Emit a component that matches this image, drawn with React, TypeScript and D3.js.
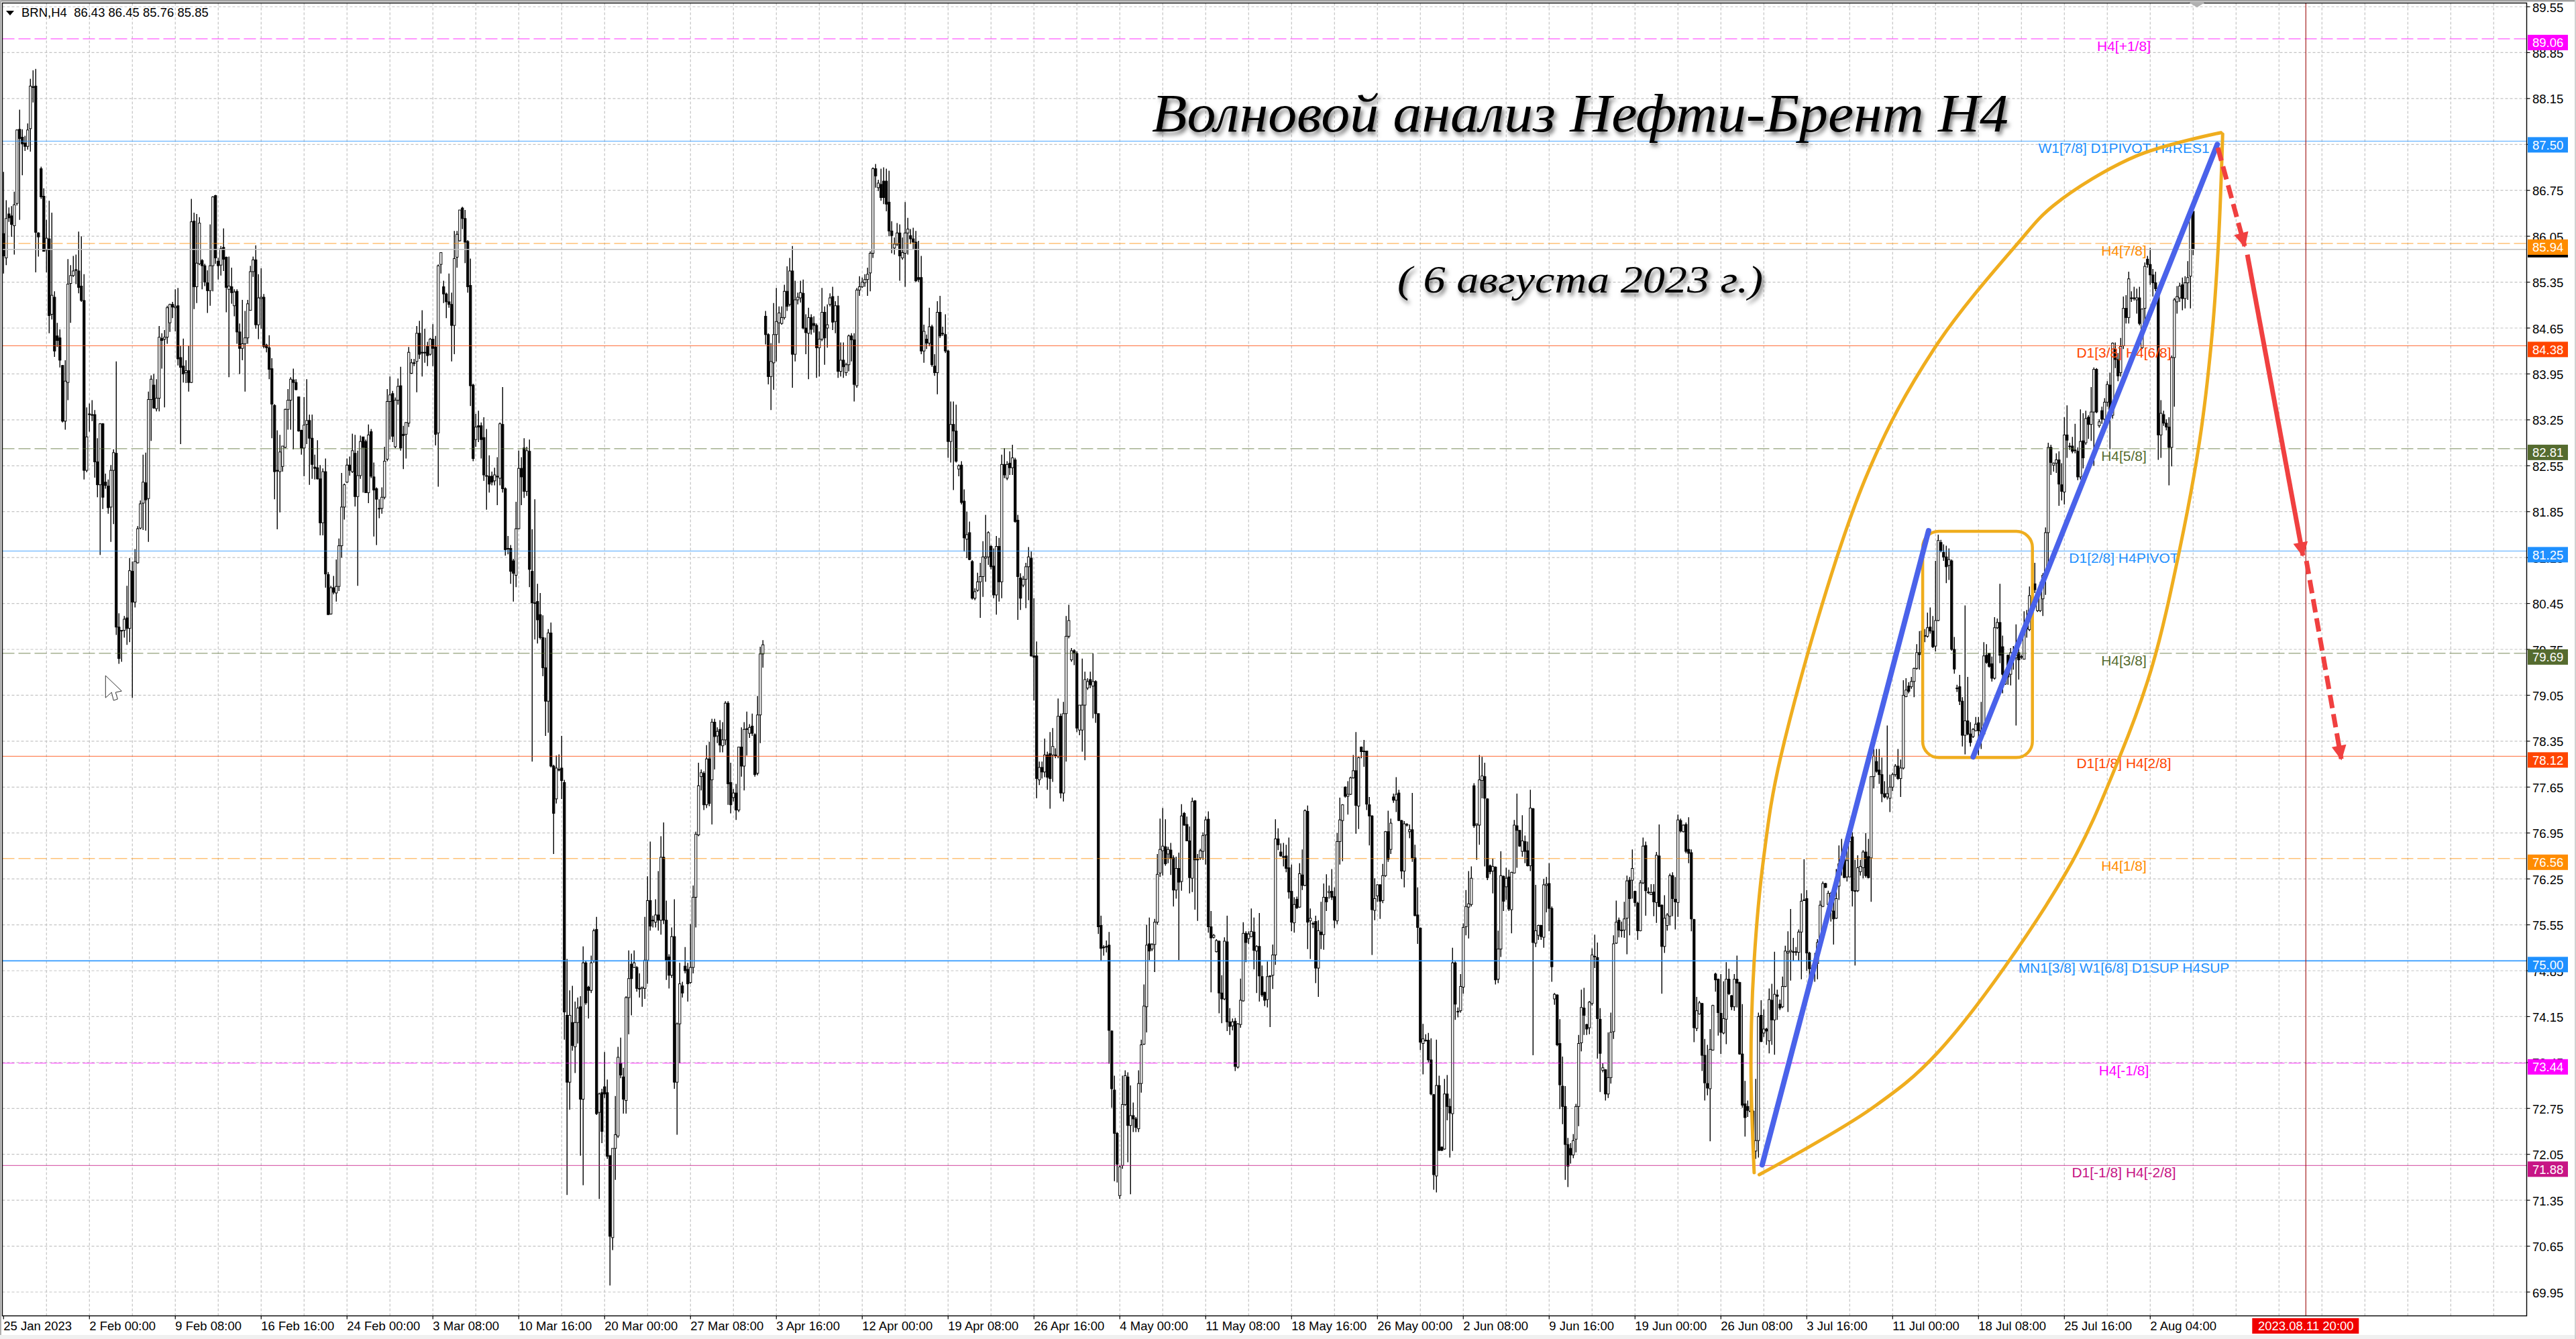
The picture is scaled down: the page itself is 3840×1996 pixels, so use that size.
import React, { useEffect, useRef } from 'react';
import * as d3 from 'd3';

// H4 bars, ten per line
const opens = [
86.09,85.72,86.39,86.36,86.21,86.55,87.68,87.56,87.47,87.42,
87.69,88.33,88.34,86.10,87.08,86.66,85.84,86.01,84.86,85.12,
84.53,84.50,84.08,83.23,83.82,85.33,85.45,85.54,85.52,85.29,
85.07,82.48,83.34,83.33,83.33,82.61,82.26,83.19,82.30,82.24,
81.92,82.48,82.74,80.09,80.04,80.04,80.23,80.07,80.94,80.47,
81.07,81.60,81.98,82.29,82.05,83.56,83.78,83.42,83.58,84.49,
84.48,84.51,84.73,85.01,84.96,84.99,84.20,84.07,83.97,84.00,
83.82,86.28,85.28,85.63,85.68,85.60,85.34,85.22,85.60,86.67,
85.67,85.61,85.88,85.73,85.24,85.28,84.99,85.21,84.59,84.34,
84.41,84.50,84.92,85.51,85.69,84.70,85.10,85.12,84.39,84.35,
84.03,83.47,82.48,82.46,82.54,82.83,83.41,83.55,83.86,83.82,
83.60,83.09,82.82,83.18,83.24,82.97,82.53,82.52,82.35,81.68,
82.46,80.89,80.29,80.69,80.61,80.71,81.33,81.92,82.30,82.56,
82.46,82.74,82.08,82.40,82.99,82.92,82.14,83.07,82.38,82.20,
81.90,81.90,82.07,82.65,83.53,83.65,82.84,83.55,83.77,83.03,
83.03,83.20,83.96,84.12,84.14,84.57,84.28,84.28,84.37,84.25,
84.48,84.36,83.05,85.62,85.28,85.17,85.05,85.01,84.69,85.73,
85.98,86.48,86.32,85.97,85.30,83.78,82.95,83.16,83.16,82.98,
82.40,82.39,82.39,82.32,82.39,82.36,83.18,82.20,81.29,81.29,
81.10,80.88,81.59,82.51,82.82,82.16,82.77,80.94,80.46,80.48,
80.28,79.93,79.47,78.96,80.00,77.97,77.47,77.92,77.94,77.72,
74.17,73.15,74.06,73.69,74.06,74.30,72.89,74.97,74.60,74.55,
75.00,75.48,72.69,72.99,73.08,72.99,72.03,70.78,72.14,72.33,
73.44,73.23,72.87,74.44,74.95,74.90,74.90,74.58,74.58,74.58,
75.01,75.92,75.62,75.59,75.70,75.62,76.58,75.62,75.06,74.78,
75.37,73.15,74.04,74.62,74.92,74.87,74.67,74.90,75.97,76.92,
77.81,77.86,77.38,78.08,77.76,78.64,78.43,78.53,78.28,78.37,
78.93,77.72,77.49,77.56,77.30,78.26,77.97,78.54,78.47,78.58,
78.45,77.86,78.75,79.68,84.83,84.55,83.91,84.12,84.55,84.73,
84.72,84.81,85.21,85.01,85.52,84.25,85.08,85.11,85.18,84.65,
84.57,84.81,84.72,84.69,84.35,84.48,84.89,84.65,85.01,85.13,
84.75,84.99,83.99,84.16,83.97,84.09,84.53,84.47,83.77,85.23,
85.28,85.34,85.39,85.49,85.79,87.08,86.79,86.84,86.89,86.89,
86.57,86.13,85.87,85.93,86.10,85.72,85.79,86.10,86.06,86.01,
85.96,85.42,85.42,84.30,84.48,84.42,84.67,84.07,83.97,84.89,
84.57,84.55,84.30,82.92,83.18,83.08,82.50,82.56,82.01,81.43,
81.53,81.09,80.53,80.65,80.78,80.86,81.14,81.16,81.32,81.02,
80.58,81.32,80.78,82.57,82.36,82.59,82.52,82.64,81.72,80.84,
80.73,80.82,81.01,81.14,79.65,79.65,77.76,77.95,77.88,78.14,
78.16,78.14,78.14,78.12,78.73,77.56,78.77,79.95,79.59,79.73,
79.69,78.52,78.52,78.90,79.16,79.29,79.19,79.26,78.77,75.54,
75.21,75.22,75.24,73.93,73.03,72.37,71.42,71.88,72.81,73.23,
72.49,72.64,72.59,72.44,73.13,73.73,74.30,75.26,75.18,75.25,
75.59,76.34,76.68,76.74,76.63,76.69,76.57,76.08,76.41,76.21,
77.25,77.08,76.83,76.26,77.44,76.55,76.57,76.67,76.92,77.16,
75.52,75.36,75.14,75.30,74.51,74.42,75.29,74.07,74.01,74.08,
73.38,74.03,74.39,75.42,75.34,75.37,75.44,75.15,75.22,74.76,
74.52,74.41,74.77,74.78,75.09,76.86,76.66,76.59,76.60,76.42,
76.06,75.58,75.94,75.82,76.31,76.15,77.28,75.61,75.57,75.60,
74.89,75.44,75.40,75.97,76.04,76.06,75.98,75.61,76.82,77.14,
77.65,77.51,77.54,77.79,77.90,77.36,78.26,78.20,78.20,77.38,
77.21,75.77,75.99,76.16,75.92,76.30,76.97,76.70,77.50,77.45,
77.56,77.14,76.37,77.08,76.97,77.00,76.57,75.70,75.50,73.74,
73.79,73.79,73.49,72.96,71.72,73.10,72.16,72.13,72.97,72.78,
72.67,74.97,74.23,74.24,74.60,75.52,75.82,75.86,77.67,77.07,
77.07,77.75,77.81,77.47,76.45,76.37,76.43,74.72,75.18,76.29,
76.13,76.28,75.78,76.34,77.06,76.99,76.67,76.82,76.68,76.45,
77.32,75.27,75.39,75.54,75.36,76.15,76.18,75.80,74.42,74.48,
73.74,73.09,72.78,72.20,72.14,72.04,72.28,72.78,73.75,74.28,
74.03,73.98,74.35,75.07,75.05,74.11,73.33,73.34,72.97,73.22,
73.92,75.27,75.62,75.47,75.47,75.65,76.23,76.23,76.06,75.88,
75.46,76.19,76.76,76.05,76.01,76.05,75.89,76.60,75.85,75.22,
75.54,75.68,76.30,75.94,75.89,77.14,76.97,77.08,76.70,76.65,
75.63,73.97,74.19,74.35,73.56,73.13,73.05,73.64,74.80,74.72,
74.20,73.90,74.11,74.72,74.47,74.30,74.72,74.67,73.58,72.82,
72.78,72.71,72.71,72.10,72.26,74.17,73.90,73.96,73.78,74.40,
74.10,74.48,74.34,74.30,74.61,75.12,75.14,75.14,75.14,75.13,
75.44,75.93,75.95,75.12,74.89,74.89,74.96,75.28,75.83,76.18,
75.86,75.76,75.76,75.65,76.14,76.48,76.55,76.28,76.28,76.89,
76.07,76.07,76.36,76.42,76.66,76.59,76.57,77.81,78.04,77.91,
77.84,77.55,77.50,77.48,77.65,77.84,77.97,77.78,77.94,79.03,
79.19,79.18,79.26,79.46,79.70,79.70,79.96,79.95,80.09,80.03,
79.80,80.19,81.38,81.23,81.16,81.03,81.10,79.75,79.16,79.18,
78.96,78.44,78.66,78.46,78.42,78.51,78.63,78.51,78.46,79.66,
79.69,79.53,79.31,80.08,80.16,79.79,79.22,79.66,79.37,79.70,
79.62,79.70,79.64,79.60,80.16,80.05,80.55,80.75,80.34,80.34,
80.52,80.84,81.53,82.83,82.56,82.59,82.64,82.26,82.15,83.02,
82.85,82.85,82.79,82.77,82.38,82.93,82.90,83.29,83.18,83.37,
84.02,83.16,83.39,83.26,83.52,83.78,83.32,84.33,84.17,83.97,
84.38,84.95,84.81,85.11,85.11,85.08,85.11,84.35,84.95,85.70,
85.62,85.46,85.34,85.25,83.02,83.33,83.20,83.14,82.83,84.20,
85.05,85.11,85.31,85.10,85.34,85.44,86.43,
];

const closes = [
85.75,86.32,86.33,86.23,86.53,87.67,87.54,87.46,87.42,87.67,
88.34,88.33,86.11,86.04,86.65,85.82,86.02,84.84,85.15,84.30,
84.46,84.16,83.23,83.84,85.32,85.45,85.52,85.54,85.27,85.07,
82.48,82.99,83.34,83.33,82.61,82.26,83.19,82.07,82.25,81.91,
82.48,82.75,80.09,79.61,80.04,80.21,80.07,80.95,80.47,81.09,
81.59,81.97,82.30,82.03,83.56,83.87,83.43,83.58,84.51,84.46,
84.51,84.96,85.01,84.97,84.98,84.18,84.05,83.95,84.00,83.82,
86.27,85.28,85.64,86.25,85.60,85.35,85.22,85.60,86.65,85.72,
85.60,85.86,85.70,85.27,85.29,85.19,85.20,84.59,84.34,84.41,
84.50,85.02,85.51,85.69,84.70,85.11,85.12,84.37,84.35,84.02,
83.49,82.46,82.48,82.76,82.85,83.41,83.55,83.87,83.82,83.71,
83.08,82.82,83.17,83.24,82.97,82.57,82.51,82.35,81.68,82.46,
80.90,80.28,80.69,80.62,80.71,81.33,81.92,82.26,82.56,82.48,
82.78,82.08,82.40,82.92,82.83,82.14,83.02,82.39,82.18,82.04,
81.90,82.07,82.62,83.53,83.63,83.00,83.55,83.76,82.82,83.01,
83.21,84.28,84.12,84.12,84.57,84.25,84.28,84.28,84.23,84.48,
84.34,83.03,85.60,85.80,85.17,85.05,85.01,84.69,85.71,86.08,
86.45,86.32,85.96,85.28,83.77,82.66,83.14,83.14,82.95,82.41,
82.40,82.27,82.30,82.41,82.39,83.19,82.20,81.27,81.29,80.94,
80.91,81.59,82.51,82.38,82.16,82.78,80.97,80.46,80.46,80.20,
79.93,79.47,78.96,80.00,77.97,77.25,77.94,77.92,77.75,74.22,
73.15,74.17,73.71,74.06,74.28,72.89,74.97,74.36,74.55,74.97,
75.46,72.67,72.97,72.40,72.97,72.02,70.80,72.14,72.35,73.53,
73.26,72.89,74.44,74.73,74.73,74.97,74.58,74.58,74.60,75.01,
75.92,75.53,75.62,75.70,75.62,76.58,75.62,75.01,74.78,75.37,
73.15,74.04,74.65,74.51,74.85,74.65,74.90,75.97,76.93,77.67,
77.87,77.38,78.08,77.40,78.64,78.42,78.50,78.29,78.37,78.93,
77.70,77.38,77.56,77.30,78.26,77.97,78.53,78.54,78.56,78.47,
77.84,78.75,79.68,79.82,84.55,83.91,84.14,84.55,84.75,84.88,
84.81,85.21,84.98,85.52,84.25,85.08,85.12,85.19,84.65,84.58,
84.81,84.63,84.69,84.35,84.48,84.89,84.50,84.70,85.11,84.74,
84.99,83.99,84.16,84.06,84.09,84.53,84.47,83.79,85.23,85.28,
85.35,85.39,85.47,85.79,87.08,86.97,86.86,86.64,86.64,86.54,
86.13,86.06,85.93,86.10,85.75,85.80,86.10,86.16,86.01,85.96,
85.37,85.39,84.30,84.60,84.42,84.67,84.09,83.97,84.89,84.53,
84.57,84.30,82.92,83.18,83.08,82.62,82.55,81.99,81.45,81.50,
81.12,80.53,80.63,80.78,80.86,81.16,81.16,81.53,81.01,80.58,
81.32,80.78,82.57,82.41,82.57,82.52,82.67,81.70,80.86,80.53,
80.82,81.01,81.16,79.65,79.63,77.78,77.95,77.88,78.14,77.80,
77.78,78.27,78.14,78.73,77.56,78.77,79.95,80.19,79.73,79.69,
78.55,78.90,78.90,79.29,79.26,79.21,79.26,78.77,75.52,75.19,
75.21,75.22,73.94,73.05,72.37,71.90,71.86,72.81,73.25,72.49,
72.64,72.59,72.46,73.13,73.72,74.31,75.24,75.15,75.25,75.59,
76.32,76.70,76.75,76.48,76.70,76.56,76.08,76.41,76.20,77.21,
77.07,76.83,76.27,77.43,76.54,76.55,76.68,76.91,77.15,75.52,
75.35,75.39,75.31,74.51,74.42,75.30,74.07,74.00,74.07,73.39,
74.04,74.40,75.42,75.28,75.41,75.45,75.16,75.22,74.77,74.48,
74.40,74.76,74.77,75.09,76.86,76.77,76.60,76.59,76.41,76.05,
75.59,75.86,75.81,76.33,76.15,77.29,75.59,75.65,75.57,74.89,
75.46,75.40,75.97,75.90,76.06,75.97,75.62,76.82,77.15,77.38,
77.51,77.54,77.79,77.90,77.37,78.10,78.19,78.20,77.39,77.21,
75.78,75.95,76.16,75.91,76.30,76.97,76.55,77.10,77.45,77.54,
77.14,76.37,77.09,77.08,77.00,76.57,75.69,75.51,73.76,73.81,
73.79,73.49,72.97,71.74,73.10,72.11,72.11,72.97,72.78,72.68,
74.97,74.34,74.23,74.61,75.51,75.83,75.87,76.26,77.06,77.09,
77.76,77.82,77.48,76.27,76.36,76.44,74.71,75.18,76.30,75.91,
76.26,75.79,76.35,77.07,76.99,76.75,76.83,76.67,76.45,77.33,
75.28,75.46,75.54,75.37,76.16,76.17,75.80,74.91,74.49,73.72,
73.11,72.78,72.20,71.87,72.04,72.26,72.78,73.74,74.29,74.17,
73.96,74.37,75.09,75.07,74.12,73.59,73.37,72.97,73.22,73.91,
75.26,75.59,75.47,75.47,75.64,76.22,75.95,76.41,75.89,75.46,
76.19,76.75,76.07,76.05,76.04,75.90,76.61,75.83,75.22,75.65,
75.70,76.30,75.95,75.90,77.15,76.98,77.07,76.67,76.64,75.64,
73.98,74.24,74.36,73.56,73.14,73.06,73.65,74.32,74.71,74.21,
73.91,74.12,74.72,74.50,74.30,74.72,74.66,73.58,72.80,72.61,
72.72,72.71,72.26,72.26,74.15,73.77,73.96,73.93,74.41,74.10,
74.49,74.46,74.28,74.61,75.15,75.14,75.16,75.14,75.14,75.44,
75.91,75.93,75.12,74.88,74.89,74.96,75.28,75.85,76.18,76.12,
76.03,76.03,75.64,75.95,76.48,76.59,76.27,76.53,76.82,76.07,
76.07,76.42,76.44,76.66,76.30,76.27,77.81,78.12,77.89,77.84,
77.55,77.50,77.55,77.65,77.84,77.97,77.78,77.94,79.05,79.13,
79.11,79.26,79.46,79.70,79.67,80.03,79.96,80.08,80.03,79.79,
80.19,81.41,81.25,81.16,81.01,81.12,79.75,79.45,79.16,78.96,
78.44,78.66,78.46,78.33,78.53,78.61,78.51,78.46,79.65,79.55,
79.49,79.31,80.08,80.16,79.66,79.37,79.41,79.33,79.70,79.60,
79.66,79.59,79.64,80.06,80.06,80.57,80.42,80.66,80.52,80.71,
80.88,81.53,82.83,82.60,82.59,82.64,82.27,82.16,83.02,82.94,
82.85,82.77,82.79,82.38,82.92,82.67,83.27,83.18,83.37,84.02,
83.37,83.22,83.26,83.52,83.79,83.32,84.42,84.17,83.92,84.37,
84.95,84.81,85.40,85.11,85.11,85.11,84.72,84.94,85.59,85.62,
85.46,85.34,85.25,83.02,83.35,83.20,83.14,82.83,84.20,85.08,
85.13,85.29,85.10,85.34,85.42,86.44,85.85,
];

const highs = [
87.03,86.60,86.49,86.51,86.73,87.68,87.98,87.68,87.58,87.77,
88.45,88.58,88.60,86.11,87.11,86.78,86.30,86.59,86.41,85.21,
84.73,84.63,84.08,84.16,85.70,85.61,85.75,85.77,86.12,86.05,
85.47,83.44,83.50,83.55,83.40,82.97,83.20,83.20,82.43,82.34,
82.56,82.80,84.14,80.30,80.04,80.26,80.72,81.14,81.09,81.28,
81.63,82.02,82.72,82.75,83.68,83.93,83.95,83.87,84.68,84.57,
84.62,84.99,85.02,85.05,85.24,85.26,84.38,84.49,84.16,84.38,
86.62,86.41,86.39,86.34,85.70,85.63,85.53,86.23,86.66,86.68,
85.72,85.90,86.17,85.74,85.74,85.57,85.24,85.24,84.72,85.08,
84.91,85.08,85.60,85.74,85.91,85.47,85.56,85.17,84.41,84.54,
84.19,83.49,83.09,83.02,82.85,83.42,83.72,83.90,84.03,83.87,
83.60,83.10,83.60,83.87,83.33,83.33,82.72,82.94,82.56,82.51,
82.66,80.93,80.72,80.87,81.12,81.44,82.44,82.28,82.66,82.69,
83.04,83.02,82.78,83.01,82.99,82.95,83.18,83.11,82.60,82.22,
82.04,82.22,82.84,83.72,83.91,83.69,83.59,83.88,84.06,83.16,
83.21,84.36,84.18,84.18,84.68,84.76,84.92,84.64,84.44,84.50,
84.71,84.53,85.62,85.80,85.37,85.19,85.48,85.19,86.13,86.13,
86.45,86.50,86.45,85.99,85.71,83.80,83.34,83.39,83.21,83.29,
83.11,82.71,82.46,82.52,82.68,83.21,83.75,82.22,81.48,81.34,
81.13,82.00,82.78,82.68,82.97,82.84,82.95,81.58,82.04,80.75,
80.61,80.27,79.93,80.06,80.16,77.99,78.13,78.15,78.43,77.76,
75.03,74.55,74.62,74.38,74.44,74.46,75.22,75.00,74.62,75.08,
75.49,75.67,72.99,73.05,73.61,73.19,72.03,72.14,72.94,73.69,
73.83,73.37,74.46,75.16,75.11,75.16,74.92,74.81,74.60,75.67,
76.29,76.82,75.69,75.94,76.37,76.90,77.11,75.92,75.10,75.51,
75.94,74.06,74.97,74.68,75.21,74.97,75.56,76.15,76.97,78.02,
77.92,77.89,78.29,78.34,78.69,78.69,78.56,78.67,78.64,78.96,
78.96,78.02,77.62,77.70,78.26,78.56,78.64,78.80,78.61,78.77,
78.47,79.04,79.79,79.89,84.91,84.57,84.42,85.03,85.26,84.98,
84.98,85.31,85.59,85.72,85.90,85.37,85.19,85.37,85.39,84.86,
84.96,84.86,84.83,84.72,84.60,85.26,84.98,85.01,85.18,85.28,
85.06,85.14,84.43,84.43,84.12,84.55,84.57,84.57,85.26,85.44,
85.42,85.47,85.57,85.82,87.10,87.15,86.91,87.08,87.10,87.08,
87.05,86.28,86.03,86.25,86.23,86.03,86.57,86.33,86.16,86.18,
86.13,85.98,85.75,84.70,84.55,84.96,84.70,84.25,85.06,85.14,
84.67,84.86,84.32,83.53,83.53,83.48,82.57,82.62,82.19,81.85,
81.70,81.11,80.68,80.92,81.07,81.40,81.80,81.55,81.34,81.29,
81.48,81.45,82.72,82.82,82.62,82.77,82.87,82.67,81.80,80.91,
80.87,81.07,81.31,81.24,80.53,79.87,78.04,78.04,78.39,78.19,
78.49,78.55,78.24,79.00,78.77,78.95,80.26,80.43,79.77,79.75,
79.72,78.90,79.61,79.41,79.31,79.41,79.69,79.28,78.77,75.69,
75.24,75.31,75.44,73.94,73.25,72.39,71.88,73.25,73.33,73.30,
73.10,72.84,72.62,73.33,73.80,74.64,75.55,75.66,75.27,75.64,
76.63,77.17,77.33,77.16,76.74,76.80,76.61,76.59,76.65,77.39,
77.27,77.20,77.05,77.49,77.45,76.63,76.71,76.96,77.20,77.28,
75.76,75.41,75.33,75.31,74.78,75.36,75.69,74.28,74.12,74.13,
74.05,74.73,75.59,75.45,75.45,75.80,75.66,75.24,75.73,74.93,
74.53,74.99,74.78,75.25,77.16,77.02,76.79,76.80,76.77,76.88,
76.47,75.97,75.98,76.49,76.70,77.31,77.37,75.80,75.60,75.69,
75.62,75.90,76.18,76.32,76.15,76.40,76.12,76.95,77.49,77.39,
77.66,77.74,77.81,78.14,78.49,78.11,78.27,78.37,78.20,77.50,
77.22,76.26,76.17,76.17,76.48,76.98,77.29,77.17,77.55,77.80,
77.61,77.15,77.13,77.10,77.08,77.56,76.77,76.12,75.51,74.04,
73.88,73.90,73.82,72.97,73.80,73.25,72.17,73.20,73.26,72.90,
75.20,74.99,74.29,74.80,75.57,76.08,76.37,76.44,77.71,77.09,
78.14,78.11,78.02,77.48,76.47,76.56,76.44,75.46,76.67,76.30,
76.42,76.39,76.36,77.15,77.55,76.99,77.22,76.91,76.82,77.61,
77.33,76.16,75.55,75.55,76.25,76.28,76.49,75.83,74.51,74.49,
74.11,73.54,73.09,72.30,72.22,72.36,72.82,73.87,74.56,74.59,
74.04,74.39,75.19,75.40,75.28,74.28,73.44,73.35,73.91,74.21,
75.39,75.92,75.66,75.60,75.90,76.30,76.28,76.70,76.07,75.90,
76.23,76.88,76.82,76.12,76.17,76.17,76.66,77.08,75.86,76.00,
75.73,76.33,76.35,76.28,77.23,77.17,77.08,77.11,77.19,76.70,
75.64,74.45,74.39,74.36,73.81,73.72,73.96,74.33,74.82,74.73,
74.80,74.69,74.98,74.88,74.48,74.80,75.08,74.68,74.34,73.17,
72.87,73.04,72.73,73.20,74.21,74.40,74.26,73.98,74.58,74.65,
75.14,74.56,74.41,74.76,75.23,75.45,75.79,75.35,75.21,75.48,
76.03,76.55,76.08,75.14,74.94,75.12,75.33,75.92,76.21,76.19,
76.07,76.05,75.90,76.40,76.76,76.86,76.59,76.94,76.82,76.96,
76.54,76.61,76.54,76.69,76.95,76.86,77.81,78.23,78.23,78.23,
78.10,77.74,78.59,77.84,77.87,78.00,78.23,78.07,79.28,79.31,
79.25,79.33,79.47,79.83,80.03,80.06,80.06,80.31,80.39,80.26,
81.10,81.50,81.42,81.35,81.33,81.29,81.12,79.94,79.21,79.36,
79.02,80.42,79.33,78.64,78.55,78.72,78.72,78.95,79.86,79.83,
79.70,79.64,80.24,80.22,80.75,79.96,79.44,79.67,79.77,79.80,
80.13,79.93,79.67,80.33,80.35,80.71,81.04,81.07,80.55,80.78,
80.91,81.61,82.90,82.87,82.60,82.74,82.77,82.59,83.29,83.47,
82.90,82.99,83.19,82.83,83.41,83.35,83.39,83.32,83.75,84.05,
84.04,83.26,83.45,83.58,83.84,83.97,84.43,84.43,84.27,84.50,
85.13,85.15,85.51,85.21,85.28,85.25,85.28,84.95,85.65,85.75,
85.87,85.55,85.51,85.26,83.55,83.39,83.26,83.29,84.23,85.11,
85.29,85.34,85.42,85.44,85.67,86.49,86.45,
];

const lows = [
85.48,85.61,86.27,86.04,85.77,86.52,86.30,86.98,87.35,87.37,
87.34,88.09,85.50,85.74,86.62,85.82,85.50,84.57,84.78,84.21,
84.36,84.05,83.21,83.10,83.55,84.73,85.43,85.32,85.18,85.05,
82.34,82.45,83.07,83.23,82.37,82.07,81.19,81.89,82.20,81.82,
81.39,81.66,79.97,79.53,79.56,79.93,79.82,79.86,79.01,80.39,
81.06,81.58,81.57,81.56,81.39,82.93,83.42,83.38,83.38,84.03,
83.44,84.41,84.59,84.80,84.60,84.08,82.88,83.82,83.81,83.68,
83.81,84.94,85.03,85.61,85.24,85.29,84.88,84.99,85.21,85.63,
85.39,85.45,85.52,84.89,83.90,85.02,84.83,84.41,83.95,84.16,
83.68,84.41,84.92,85.43,84.64,84.48,84.64,84.34,84.28,83.87,
82.97,82.04,81.58,81.84,82.46,82.82,83.10,83.10,82.80,83.70,
83.07,82.72,82.39,82.88,82.26,82.35,82.34,82.34,81.49,81.49,
80.69,80.28,80.28,80.59,80.48,80.64,81.15,81.73,82.29,82.40,
82.44,81.93,80.72,82.35,82.14,82.14,81.98,82.36,81.47,81.34,
81.75,81.82,82.04,82.62,82.95,82.91,82.82,83.48,82.78,82.50,
82.66,83.14,83.95,84.07,83.67,84.18,83.91,84.12,84.07,84.23,
84.07,82.86,82.23,85.48,85.03,84.80,84.96,84.14,84.25,85.57,
85.97,86.16,85.64,85.19,83.46,82.62,82.84,82.91,82.66,82.32,
81.88,82.14,82.25,82.25,81.95,82.25,82.14,81.18,81.20,80.75,
80.48,80.70,81.58,81.95,82.06,82.09,80.70,78.04,79.90,79.84,
79.90,79.34,78.43,78.48,77.95,76.63,77.40,77.89,77.47,73.80,
71.43,72.73,73.63,73.29,73.74,72.03,71.58,74.33,74.12,74.51,
74.97,72.65,71.37,72.22,72.91,71.98,70.05,70.59,71.66,72.30,
73.21,72.67,72.67,73.88,74.17,74.89,74.53,74.44,74.30,74.42,
74.65,75.46,75.51,75.51,75.46,75.40,75.56,74.71,74.58,74.74,
73.05,72.35,73.44,74.44,74.81,74.38,74.65,74.81,75.51,76.90,
77.60,77.30,77.33,77.36,77.08,77.92,78.32,78.18,78.18,78.29,
77.38,77.25,77.43,77.15,77.27,77.81,77.60,78.13,78.40,78.43,
77.81,77.83,78.32,79.47,84.40,83.79,83.40,83.71,84.14,84.42,
84.70,84.78,84.91,84.98,83.74,84.14,85.01,85.04,84.63,84.25,
83.87,84.55,84.58,83.89,83.91,84.45,84.09,84.35,84.98,84.62,
84.57,83.89,83.91,83.89,83.92,83.99,84.14,83.53,83.74,85.14,
85.26,85.28,85.14,85.21,85.72,86.79,86.74,86.59,86.54,86.43,
86.05,85.79,85.77,85.90,85.37,85.69,85.28,85.77,85.93,85.85,
85.35,85.35,84.25,84.12,84.33,84.37,84.06,83.92,83.64,84.50,
84.53,84.27,82.67,82.60,82.18,82.60,82.39,81.96,81.24,81.14,
81.11,80.51,80.50,80.63,80.23,80.55,80.78,81.04,80.97,80.53,
80.28,80.48,80.53,82.36,82.33,82.41,82.41,81.68,80.20,80.35,
80.70,80.38,80.50,79.64,78.97,77.48,77.68,77.78,77.80,77.61,
77.32,77.73,78.09,78.09,77.48,77.43,78.04,79.92,79.56,79.51,
78.49,78.44,78.19,78.06,79.13,79.16,78.70,78.63,75.41,75.00,
75.08,75.13,73.43,72.76,71.64,71.62,71.37,71.83,72.79,71.93,
71.44,72.39,72.39,72.39,72.99,73.72,73.91,75.01,75.15,74.83,
75.55,76.28,76.30,76.45,76.49,76.31,75.83,75.95,75.01,76.07,
77.06,76.83,76.03,76.05,75.78,75.61,76.54,76.54,76.47,75.43,
74.52,75.34,75.13,74.20,74.05,74.40,73.93,73.87,73.94,73.32,
73.36,73.98,74.38,74.98,75.26,75.36,74.87,74.51,74.38,74.45,
74.31,74.29,73.99,74.57,74.94,76.69,76.59,76.44,76.35,75.95,
75.45,75.43,75.79,75.81,76.08,76.14,75.18,75.03,75.50,74.66,
74.45,75.18,75.17,75.76,75.95,75.93,75.50,75.56,76.47,76.52,
77.49,77.23,77.53,77.78,76.94,77.01,78.09,77.96,77.30,76.76,
75.09,75.62,75.90,75.64,75.88,76.28,76.51,76.63,77.41,77.27,
77.13,76.25,76.12,77.05,76.87,76.51,75.68,75.26,73.64,73.27,
73.77,73.45,72.95,71.51,71.47,72.10,72.10,72.12,72.57,72.00,
72.10,74.10,74.14,74.21,74.50,75.39,75.34,75.83,77.03,76.54,
76.77,77.48,76.44,76.23,76.32,76.03,74.64,74.66,75.06,75.76,
75.93,75.76,75.42,76.33,76.42,76.74,76.59,76.49,76.44,76.37,
73.56,75.21,75.32,75.32,75.20,75.74,75.45,74.68,74.33,73.70,
72.74,72.51,71.66,71.55,71.91,71.99,72.08,72.48,73.62,73.87,
73.87,73.88,74.32,74.89,73.51,73.00,73.30,72.87,72.91,73.13,
73.81,75.26,75.36,75.36,75.35,75.10,75.39,75.95,75.83,75.32,
75.45,76.17,75.69,76.02,76.01,75.68,75.58,75.82,74.50,75.12,
75.46,75.54,75.68,75.48,75.67,76.96,76.96,76.64,76.49,75.45,
73.76,73.93,74.18,73.32,72.87,72.95,72.25,73.63,74.53,73.86,
73.58,73.88,73.73,74.48,74.25,74.24,74.29,73.57,72.76,72.32,
72.62,72.70,71.84,71.98,72.00,73.76,73.84,73.72,73.59,73.72,
73.57,74.10,74.25,74.28,74.60,74.22,74.70,75.00,75.08,75.00,
74.72,75.92,74.85,74.73,74.68,74.68,74.72,75.26,75.82,76.11,
75.81,75.60,75.25,75.64,75.93,76.30,76.27,76.21,76.28,75.83,
74.93,76.05,76.30,76.26,76.27,76.26,75.90,77.63,77.87,77.70,
77.42,77.48,77.46,77.27,77.59,77.81,77.76,77.50,77.92,79.02,
79.08,79.15,79.02,79.44,79.44,79.70,79.86,79.93,79.99,79.77,
79.72,80.18,81.23,81.10,80.76,80.81,79.73,79.38,79.10,78.90,
78.27,78.15,78.44,78.27,78.40,78.50,78.14,78.23,78.43,79.53,
79.47,79.26,79.29,80.06,79.54,79.08,79.21,79.21,79.20,79.44,
78.59,79.29,79.60,79.60,79.93,80.03,80.42,80.61,80.32,80.32,
80.26,80.58,80.97,82.41,82.46,82.44,81.94,82.02,81.96,82.67,
82.79,82.74,82.74,82.33,82.34,82.51,82.87,82.96,82.93,82.55,
83.35,83.13,83.19,83.19,83.45,82.80,83.27,84.04,83.84,83.91,
84.33,84.72,84.72,85.05,85.07,84.87,84.69,84.33,84.74,85.57,
85.31,85.13,85.21,82.64,82.67,83.16,83.09,82.25,82.54,83.45,
84.87,85.05,84.92,84.95,85.08,84.95,85.76,
];

const priceTicks = ['69.95','70.65','71.35','72.05','72.75','73.45','74.15','74.85','75.55','76.25','76.95','77.65','78.35','79.05','79.75','80.45','81.15','81.85','82.55','83.25','83.95','84.65','85.35','86.05','86.75','87.45','88.15','88.85','89.55'];
const timeLabels = ['25 Jan 2023','2 Feb 00:00','9 Feb 08:00','16 Feb 16:00','24 Feb 00:00','3 Mar 08:00','10 Mar 16:00','20 Mar 00:00','27 Mar 08:00','3 Apr 16:00','12 Apr 00:00','19 Apr 08:00','26 Apr 16:00','4 May 00:00','11 May 08:00','18 May 16:00','26 May 00:00','2 Jun 08:00','9 Jun 16:00','19 Jun 00:00','26 Jun 08:00','3 Jul 16:00','11 Jul 00:00','18 Jul 08:00','25 Jul 16:00','2 Aug 04:00'];

const levelPrices = [89.06, 87.5, 85.94, 84.38, 82.81, 81.25, 79.69, 78.12, 76.56, 75.0, 73.44, 71.88];
const levelNames = ['H4[+1/8]', 'W1[7/8] D1PIVOT H4RES1', 'H4[7/8]', 'D1[3/8] H4[6/8]', 'H4[5/8]', 'D1[2/8] H4PIVOT', 'H4[3/8]', 'D1[1/8] H4[2/8]', 'H4[1/8]', 'MN1[3/8] W1[6/8] D1SUP H4SUP', 'H4[-1/8]', 'D1[-1/8] H4[-2/8]'];
const levelColors = ['#ff00ff', '#1e90ff', '#ff8c00', '#ff4500', '#556b2f', '#1e90ff', '#556b2f', '#ff4500', '#ff8c00', '#1e90ff', '#ff00ff', '#c71585'];

// hand drawn marks, as [bar number, price]
const blueWaveA = [[655.4, 71.89], [717.4, 81.56]];
const blueWaveB = [[734, 78.11], [825, 87.45]];
const arcUpper = [[652.4, 71.77], [651.2, 73.44], [652.4, 75], [655.9, 76.56], [662.4, 78.13], [693.7, 82.34], [719.4, 84.33], [750.4, 85.93], [764, 86.52], [794.6, 87.27], [826.4, 87.63]];
const arcLower = [[654.3, 71.74], [696.2, 72.75], [721.2, 73.62], [768.7, 76.35], [788.7, 78.12], [800.7, 79.49], [810.9, 81.26], [818.4, 82.93], [822.8, 84.44], [825.4, 85.93], [827, 87.61]];
const boxCorners = [[715.2, 81.55], [756.1, 78.1]];
const redDashTop = [[825.2, 87.4], [835.2, 85.9]];
const redSolid = [[836.2, 85.77], [856.9, 81.18]];
const redDashLow = [[858.2, 81.1], [871.2, 78.08]];
const crossBar = 858;
const lastPrice = 85.85;

const App: React.FC = () => {
  const svgRef = useRef<SVGSVGElement>(null);

  useEffect(() => {
    if (!svgRef.current) return;
    const svg = d3.select(svgRef.current);
    svg.selectAll('*').remove();

    const left = 3.5, right = 3766.5, top = 4.5, bottom = 1961.5;
    const x = d3.scaleLinear().domain([0, 816]).range([5.3, 3269.3]);
    const y = d3.scaleLinear().domain([69.95, 89.55]).range([1926, 10]);
    const sans = '"Liberation Sans", Arial, sans-serif';

    const defs = svg.append('defs');
    const shadow = defs.append('filter').attr('id', 'shadow').attr('x', '-5%').attr('y', '-30%').attr('width', '110%').attr('height', '170%');
    shadow.append('feDropShadow').attr('dx', 3).attr('dy', 5).attr('stdDeviation', 3).attr('flood-color', '#000').attr('flood-opacity', 0.55);
    defs.append('marker').attr('id', 'redHead').attr('viewBox', '0 0 10 10').attr('refX', 9).attr('refY', 5)
      .attr('markerUnits', 'userSpaceOnUse').attr('markerWidth', 24).attr('markerHeight', 22).attr('orient', 'auto')
      .append('path').attr('d', 'M0,0 L10,5 L0,10 Z').attr('fill', '#f04040');

    // window chrome
    svg.append('rect').attr('width', 3840).attr('height', 1996).attr('fill', '#fff');
    svg.append('rect').attr('width', 3840).attr('height', 2.5).attr('fill', '#a0a0a0');
    svg.append('rect').attr('width', 2).attr('height', 1996).attr('fill', '#b0b0b0');
    svg.append('rect').attr('y', 1990).attr('width', 3840).attr('height', 6).attr('fill', '#f0f0f0');
    svg.append('rect').attr('x', 3838).attr('width', 2).attr('height', 1996).attr('fill', '#d0d0d0');

    // grid
    const grid = svg.append('g').attr('stroke', '#c4c4c4').attr('stroke-width', 1.2).attr('stroke-dasharray', '4 3');
    priceTicks.forEach(t => {
      grid.append('line').attr('x1', left).attr('x2', right).attr('y1', y(+t)).attr('y2', y(+t));
    });
    d3.range(16, 950, 16).forEach(b => {
      if (x(b) < right) grid.append('line').attr('x1', x(b)).attr('x2', x(b)).attr('y1', top).attr('y2', bottom);
    });

    // candles
    const candles = svg.append('g');
    opens.forEach((o, i) => {
      const c = closes[i];
      const hi = Math.max(highs[i], o, c);
      const lo = Math.min(lows[i], o, c);
      candles.append('line').attr('x1', x(i)).attr('x2', x(i)).attr('y1', y(hi)).attr('y2', y(lo))
        .attr('stroke', '#000').attr('stroke-width', 1.4);
      const yTop = y(Math.max(o, c));
      const h = Math.max(Math.abs(y(o) - y(c)), 1);
      candles.append('rect').attr('x', x(i) - 1.6).attr('y', yTop).attr('width', 3.2).attr('height', h)
        .attr('fill', c > o ? '#fff' : '#000').attr('stroke', '#000').attr('stroke-width', 1);
    });

    // current price line
    svg.append('line').attr('x1', left).attr('x2', right).attr('y1', y(lastPrice)).attr('y2', y(lastPrice))
      .attr('stroke', '#c0c0c0').attr('stroke-width', 1.4);

    // levels: every second one is solid, the H4 eighths in between are dashed
    levelPrices.forEach((p, i) => {
      const solid = i % 2 === 1;
      svg.append('line').attr('x1', left).attr('x2', right).attr('y1', y(p)).attr('y2', y(p))
        .attr('stroke', levelColors[i]).attr('stroke-opacity', 0.8)
        .attr('stroke-width', p === 75 ? 2 : 1)
        .attr('stroke-dasharray', solid ? null : '18 6');
      svg.append('text').attr('x', 3166).attr('y', y(p) + 18).attr('text-anchor', 'middle')
        .attr('font-family', sans).attr('font-size', 21).attr('fill', levelColors[i]).text(levelNames[i]);
    });

    // vertical cursor line
    svg.append('line').attr('x1', x(crossBar)).attr('x2', x(crossBar)).attr('y1', top).attr('y2', bottom)
      .attr('stroke', '#a52020').attr('stroke-width', 1.2);

    // frame
    svg.append('rect').attr('x', left).attr('y', top).attr('width', right - left).attr('height', bottom - top)
      .attr('fill', 'none').attr('stroke', '#000').attr('stroke-width', 1.4);

    // price axis
    priceTicks.forEach(t => {
      svg.append('line').attr('x1', right).attr('x2', right + 5).attr('y1', y(+t)).attr('y2', y(+t)).attr('stroke', '#000').attr('stroke-width', 1.2);
      svg.append('text').attr('x', 3775).attr('y', y(+t) + 7.5).attr('font-family', sans).attr('font-size', 18.5).attr('fill', '#000').text(t);
    });
    svg.append('rect').attr('x', 3768).attr('y', y(lastPrice) - 11).attr('width', 60).attr('height', 23).attr('fill', '#000');
    levelPrices.forEach((p, i) => {
      svg.append('rect').attr('x', 3768).attr('y', y(p) - 6).attr('width', 60).attr('height', 23).attr('fill', levelColors[i]);
      svg.append('text').attr('x', 3775).attr('y', y(p) + 12.5).attr('font-family', sans).attr('font-size', 18.5).attr('fill', '#fff').text(p.toFixed(2));
    });

    // time axis
    timeLabels.forEach((t, i) => {
      const bx = x(i * 32);
      svg.append('line').attr('x1', bx).attr('x2', bx).attr('y1', bottom).attr('y2', bottom + 5).attr('stroke', '#000').attr('stroke-width', 1.2);
      svg.append('text').attr('x', bx).attr('y', 1983).attr('font-family', sans).attr('font-size', 18.5).attr('fill', '#000').text(t);
    });
    svg.append('rect').attr('x', x(crossBar) - 80).attr('y', 1965).attr('width', 159).attr('height', 23).attr('fill', '#f00000');
    svg.append('text').attr('x', x(crossBar)).attr('y', 1983).attr('text-anchor', 'middle')
      .attr('font-family', sans).attr('font-size', 18.5).attr('fill', '#fff').text('2023.08.11 20:00');

    // header
    svg.append('path').attr('d', 'M9,16 L21,16 L15,23 Z').attr('fill', '#000');
    svg.append('text').attr('x', 32).attr('y', 25).attr('font-family', sans).attr('font-size', 18.5).attr('fill', '#000')
      .attr('xml:space', 'preserve').style('white-space', 'pre').text('BRN,H4  86.43 86.45 85.76 85.85');
    svg.append('path').attr('d', 'M3262,3 L3288,3 L3275,11 Z').attr('fill', '#b0b0b0');

    // mouse pointer left on the picture
    svg.append('path').attr('transform', `translate(${x(38)},${y(79.35)})`)
      .attr('d', 'M0,0 L24,23 L15,25 L18,35 L12,37 L9,25 L0,33 Z').attr('fill', '#fff').attr('stroke', '#333').attr('stroke-width', 1);

    // wave marks
    const line = d3.line<number[]>().x(d => x(d[0])).y(d => y(d[1]));
    const arc = d3.line<number[]>().x(d => x(d[0])).y(d => y(d[1])).curve(d3.curveCatmullRom.alpha(0.5));
    [arcUpper, arcLower].forEach(pts => {
      svg.append('path').attr('d', arc(pts)).attr('fill', 'none').attr('stroke', '#efad1e').attr('stroke-width', 5).attr('stroke-linecap', 'round');
    });
    svg.append('rect').attr('x', x(boxCorners[0][0])).attr('y', y(boxCorners[0][1]))
      .attr('width', x(boxCorners[1][0]) - x(boxCorners[0][0])).attr('height', y(boxCorners[1][1]) - y(boxCorners[0][1]))
      .attr('rx', 24).attr('fill', 'none').attr('stroke', '#efad1e').attr('stroke-width', 4.5);
    [blueWaveA, blueWaveB].forEach(pts => {
      svg.append('path').attr('d', line(pts)).attr('fill', 'none').attr('stroke', '#4a62ea').attr('stroke-width', 8).attr('stroke-linecap', 'round');
    });
    [redDashTop, redSolid, redDashLow].forEach((pts, i) => {
      svg.append('path').attr('d', line(pts)).attr('fill', 'none').attr('stroke', '#f04040').attr('stroke-width', 7)
        .attr('stroke-dasharray', i === 1 ? null : '20 9').attr('marker-end', 'url(#redHead)');
    });

    // titles
    const script = '"Liberation Serif", "DejaVu Serif", serif';
    svg.append('text').attr('x', 1717).attr('y', 196).attr('font-family', script).attr('font-style', 'italic').attr('font-size', 80)
      .attr('textLength', 1277).attr('lengthAdjust', 'spacingAndGlyphs').attr('fill', '#000').attr('filter', 'url(#shadow)')
      .text('Волновой анализ Нефти-Брент Н4');
    svg.append('text').attr('x', 2083).attr('y', 436).attr('font-family', script).attr('font-style', 'italic').attr('font-size', 58)
      .attr('textLength', 545).attr('lengthAdjust', 'spacingAndGlyphs').attr('fill', '#000').attr('filter', 'url(#shadow)')
      .text('( 6 августа 2023 г.)');
  }, []);

  return <svg ref={svgRef} width={3840} height={1996} style={{ position: 'absolute', left: 0, top: 0 }} />;
};

export default App;
